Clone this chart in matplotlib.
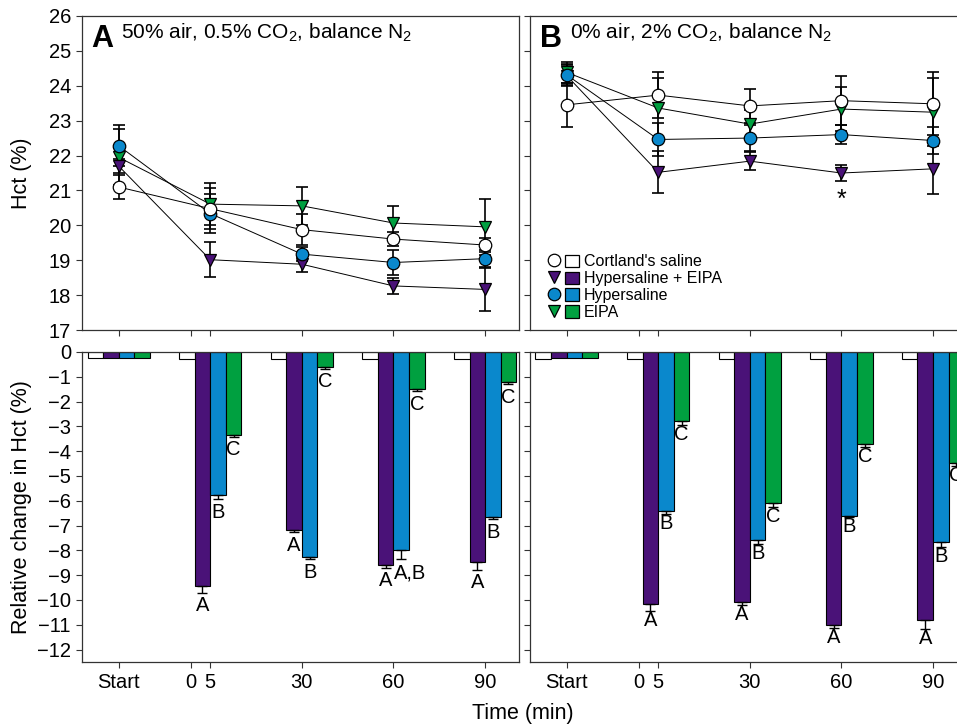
import numpy as np
import matplotlib
matplotlib.use("Agg")
import matplotlib.pyplot as plt
from matplotlib.lines import Line2D
from matplotlib.patches import Patch
from matplotlib.legend_handler import HandlerTuple

plt.rcParams['font.family'] = ['Liberation Sans', 'DejaVu Sans']
plt.rcParams['mathtext.fontset'] = 'custom'
plt.rcParams['mathtext.rm'] = 'Liberation Sans'
plt.rcParams['mathtext.default'] = 'regular'

# ---------------------------
# data
# ---------------------------
time_labels = ['Start', '5', '30', '60', '90']
series_names = ["Cortland's saline", 'Hypersaline + EIPA', 'Hypersaline', 'EIPA']

# Hct (%) panel A
hct_cort_A = [21.10, 20.48, 19.88, 19.61, 19.44]
hct_cort_A_err = [0.34, 0.58, 0.45, 0.21, 0.20]
hct_hypeipa_A = [21.70, 19.02, 18.89, 18.27, 18.17]
hct_hypeipa_A_err = [0.20, 0.50, 0.22, 0.22, 0.61]
hct_hyp_A = [22.28, 20.34, 19.18, 18.94, 19.05]
hct_hyp_A_err = [0.59, 0.57, 0.20, 0.36, 0.24]
hct_eipa_A = [21.95, 20.61, 20.56, 20.07, 19.96]
hct_eipa_A_err = [0.80, 0.60, 0.54, 0.48, 0.80]

# Hct (%) panel B
hct_cort_B = [23.45, 23.73, 23.42, 23.57, 23.48]
hct_cort_B_err = [0.62, 0.65, 0.48, 0.70, 0.90]
hct_hypeipa_B = [24.29, 21.52, 21.84, 21.50, 21.62]
hct_hypeipa_B_err = [0.30, 0.60, 0.25, 0.22, 0.73]
hct_hyp_B = [24.31, 22.46, 22.50, 22.60, 22.43]
hct_hyp_B_err = [0.30, 0.46, 0.36, 0.27, 0.40]
hct_eipa_B = [24.38, 23.36, 22.90, 23.33, 23.24]
hct_eipa_B_err = [0.30, 0.86, 0.40, 0.64, 0.98]

# relative change in Hct (%) panel A
rel_cort_A = [-0.25, -0.27, -0.27, -0.29, -0.27]
rel_hypeipa_A = [-0.25, -9.42, -7.16, -8.59, -8.45]
rel_hypeipa_A_err = [0, 0.28, 0.09, 0.10, 0.33]
rel_hyp_A = [-0.25, -5.77, -8.25, -7.99, -6.65]
rel_hyp_A_err = [0, 0.17, 0.09, 0.37, 0.09]
rel_eipa_A = [-0.25, -3.33, -0.60, -1.50, -1.20]
rel_eipa_A_err = [0, 0.08, 0.07, 0.08, 0.09]
letters_A = [['', 'A', 'A', 'A', 'A'],
             ['', 'B', 'B', 'A,B', 'B'],
             ['', 'C', 'C', 'C', 'C']]

# relative change in Hct (%) panel B
rel_cort_B = [-0.27, -0.27, -0.27, -0.27, -0.27]
rel_hypeipa_B = [-0.25, -10.15, -10.08, -10.99, -10.82]
rel_hypeipa_B_err = [0, 0.31, 0.13, 0.12, 0.36]
rel_hyp_B = [-0.25, -6.43, -7.57, -6.61, -7.68]
rel_hyp_B_err = [0, 0.12, 0.19, 0.05, 0.17]
rel_eipa_B = [-0.25, -2.80, -6.10, -3.73, -4.48]
rel_eipa_B_err = [0, 0.13, 0.15, 0.09, 0.13]
letters_B = [['', 'A', 'A', 'A', 'A'],
             ['', 'B', 'B', 'B', 'B'],
             ['', 'C', 'C', 'C', 'C']]

# ---------------------------
# styles
# ---------------------------
c_white = 'white'
c_purple = '#4a1278'
c_blue = '#0a88cc'
c_green = '#00a040'
colors = [c_white, c_purple, c_blue, c_green]
markers = ['o', 'v', 'o', 'v']

x = np.arange(len(time_labels))
tick_pos = [0, 0.79, 1, 2, 3, 4]
tick_lab = ['Start', '0', '5', '30', '60', '90']
xlim = (-0.40, 4.37)
fs = 14.5

fig = plt.figure(figsize=(9.57, 7.25), dpi=100)
axA = fig.add_axes([0.0857, 0.5444, 0.4566, 0.4339])
axB = fig.add_axes([0.5538, 0.5444, 0.4566, 0.4339])
axC = fig.add_axes([0.0857, 0.0869, 0.4566, 0.4276])
axD = fig.add_axes([0.5538, 0.0869, 0.4566, 0.4276])


def style(ax, labels):
    for s in ax.spines.values():
        s.set_linewidth(0.9)
        s.set_color('#333333')
    ax.set_xlim(*xlim)
    ax.set_xticks(tick_pos)
    ax.tick_params(direction='out', length=4, width=0.8, labelsize=fs, colors='#333333',
                   labelcolor='black', pad=4)
    ax.set_xticklabels(tick_lab if labels else [''] * len(tick_pos))


def draw_lines(ax, vals, errs):
    order = [3, 1, 2, 0]  # EIPA, Hyper+EIPA, Hypersaline, Cortland on top
    for i in order:
        ax.errorbar(x, vals[i], yerr=errs[i], fmt='none', ecolor='black', elinewidth=1.2,
                    capsize=4, capthick=1.2, zorder=2)
    for i in order:
        ax.plot(x, vals[i], '-', color='black', lw=0.7, zorder=3)
    for i in order:
        ax.plot(x, vals[i], linestyle='none', marker=markers[i], markersize=9,
                markerfacecolor=colors[i], markeredgecolor='black', markeredgewidth=0.9,
                zorder=4 + order.index(i))
    ax.set_ylim(17, 26)
    ax.set_yticks(np.arange(17, 27, 1))


def draw_bars(ax, rel, errs, letters, gap):
    w = 0.17
    for i in range(4):
        off = (i - 1.5) * w
        ax.bar(x + off, rel[i], width=w, color=colors[i], edgecolor='black', linewidth=0.8,
               zorder=2)
        if i > 0:
            e = np.array(errs[i - 1])
            ax.errorbar(x[1:] + off, np.array(rel[i])[1:], yerr=[e[1:], np.zeros(4)],
                        fmt='none', ecolor='black', elinewidth=1.0, capsize=3.5,
                        capthick=1.0, zorder=3)
            for j in range(1, len(x)):
                lab = letters[i - 1][j]
                if ',' in lab:
                    ax.text(x[j] + off - w / 2, rel[i][j] - e[j] - gap, lab, ha='left',
                            va='top', fontsize=fs)
                else:
                    ax.text(x[j] + off, rel[i][j] - e[j] - gap, lab, ha='center',
                            va='top', fontsize=fs)
    ax.set_ylim(-12.5, 0)
    ax.set_yticks(np.arange(-12, 1, 1))


draw_lines(axA, [hct_cort_A, hct_hypeipa_A, hct_hyp_A, hct_eipa_A],
           [hct_cort_A_err, hct_hypeipa_A_err, hct_hyp_A_err, hct_eipa_A_err])
draw_lines(axB, [hct_cort_B, hct_hypeipa_B, hct_hyp_B, hct_eipa_B],
           [hct_cort_B_err, hct_hypeipa_B_err, hct_hyp_B_err, hct_eipa_B_err])
draw_bars(axC, [rel_cort_A, rel_hypeipa_A, rel_hyp_A, rel_eipa_A],
          [rel_hypeipa_A_err, rel_hyp_A_err, rel_eipa_A_err], letters_A, 0.15)
draw_bars(axD, [rel_cort_B, rel_hypeipa_B, rel_hyp_B, rel_eipa_B],
          [rel_hypeipa_B_err, rel_hyp_B_err, rel_eipa_B_err], letters_B, 0.0)

style(axA, False)
style(axB, False)
style(axC, True)
style(axD, True)
axB.set_yticklabels([])
axD.set_yticklabels([])
axC.set_yticklabels([str(int(v)).replace('-', '\u2212') for v in np.arange(-12, 1, 1)])

# significance marker
axB.text(x[3], hct_hypeipa_B[3] - hct_hypeipa_B_err[3] - 0.2, '*', ha='center', va='top',
         fontsize=18)

# panel titles
axA.text(0.021, 0.901, 'A', transform=axA.transAxes, fontsize=22, fontweight='bold')
axA.text(0.089, 0.926, r'50% air, 0.5% CO$_2$, balance N$_2$', transform=axA.transAxes,
         fontsize=15)
axB.text(0.022, 0.901, 'B', transform=axB.transAxes, fontsize=22, fontweight='bold')
axB.text(0.092, 0.926, r'0% air, 2% CO$_2$, balance N$_2$', transform=axB.transAxes,
         fontsize=15)

# legend
handles = []
for i in range(4):
    m = Line2D([], [], linestyle='none', marker=markers[i], markersize=9,
               markerfacecolor=colors[i], markeredgecolor='black', markeredgewidth=0.9)
    p = Patch(facecolor=colors[i], edgecolor='black', linewidth=0.9)
    handles.append((m, p))
axB.legend(handles, series_names, handler_map={tuple: HandlerTuple(ndivide=None, pad=0.25)},
           loc='lower left', bbox_to_anchor=(0.01, -0.008), frameon=False, fontsize=11.5,
           handlelength=2.0, handleheight=0.8, handletextpad=0.3, labelspacing=0.12,
           borderpad=0.3)

axA.set_ylabel('Hct (%)', fontsize=15.5)
axA.yaxis.set_label_coords(-0.114, 0.5)
axC.set_ylabel('Relative change in Hct (%)', fontsize=15.5)
axC.yaxis.set_label_coords(-0.114, 0.5)
fig.text(0.546, 0.016, 'Time (min)', ha='center', va='center', fontsize=15.5)

fig.savefig('out.png', dpi=100)
